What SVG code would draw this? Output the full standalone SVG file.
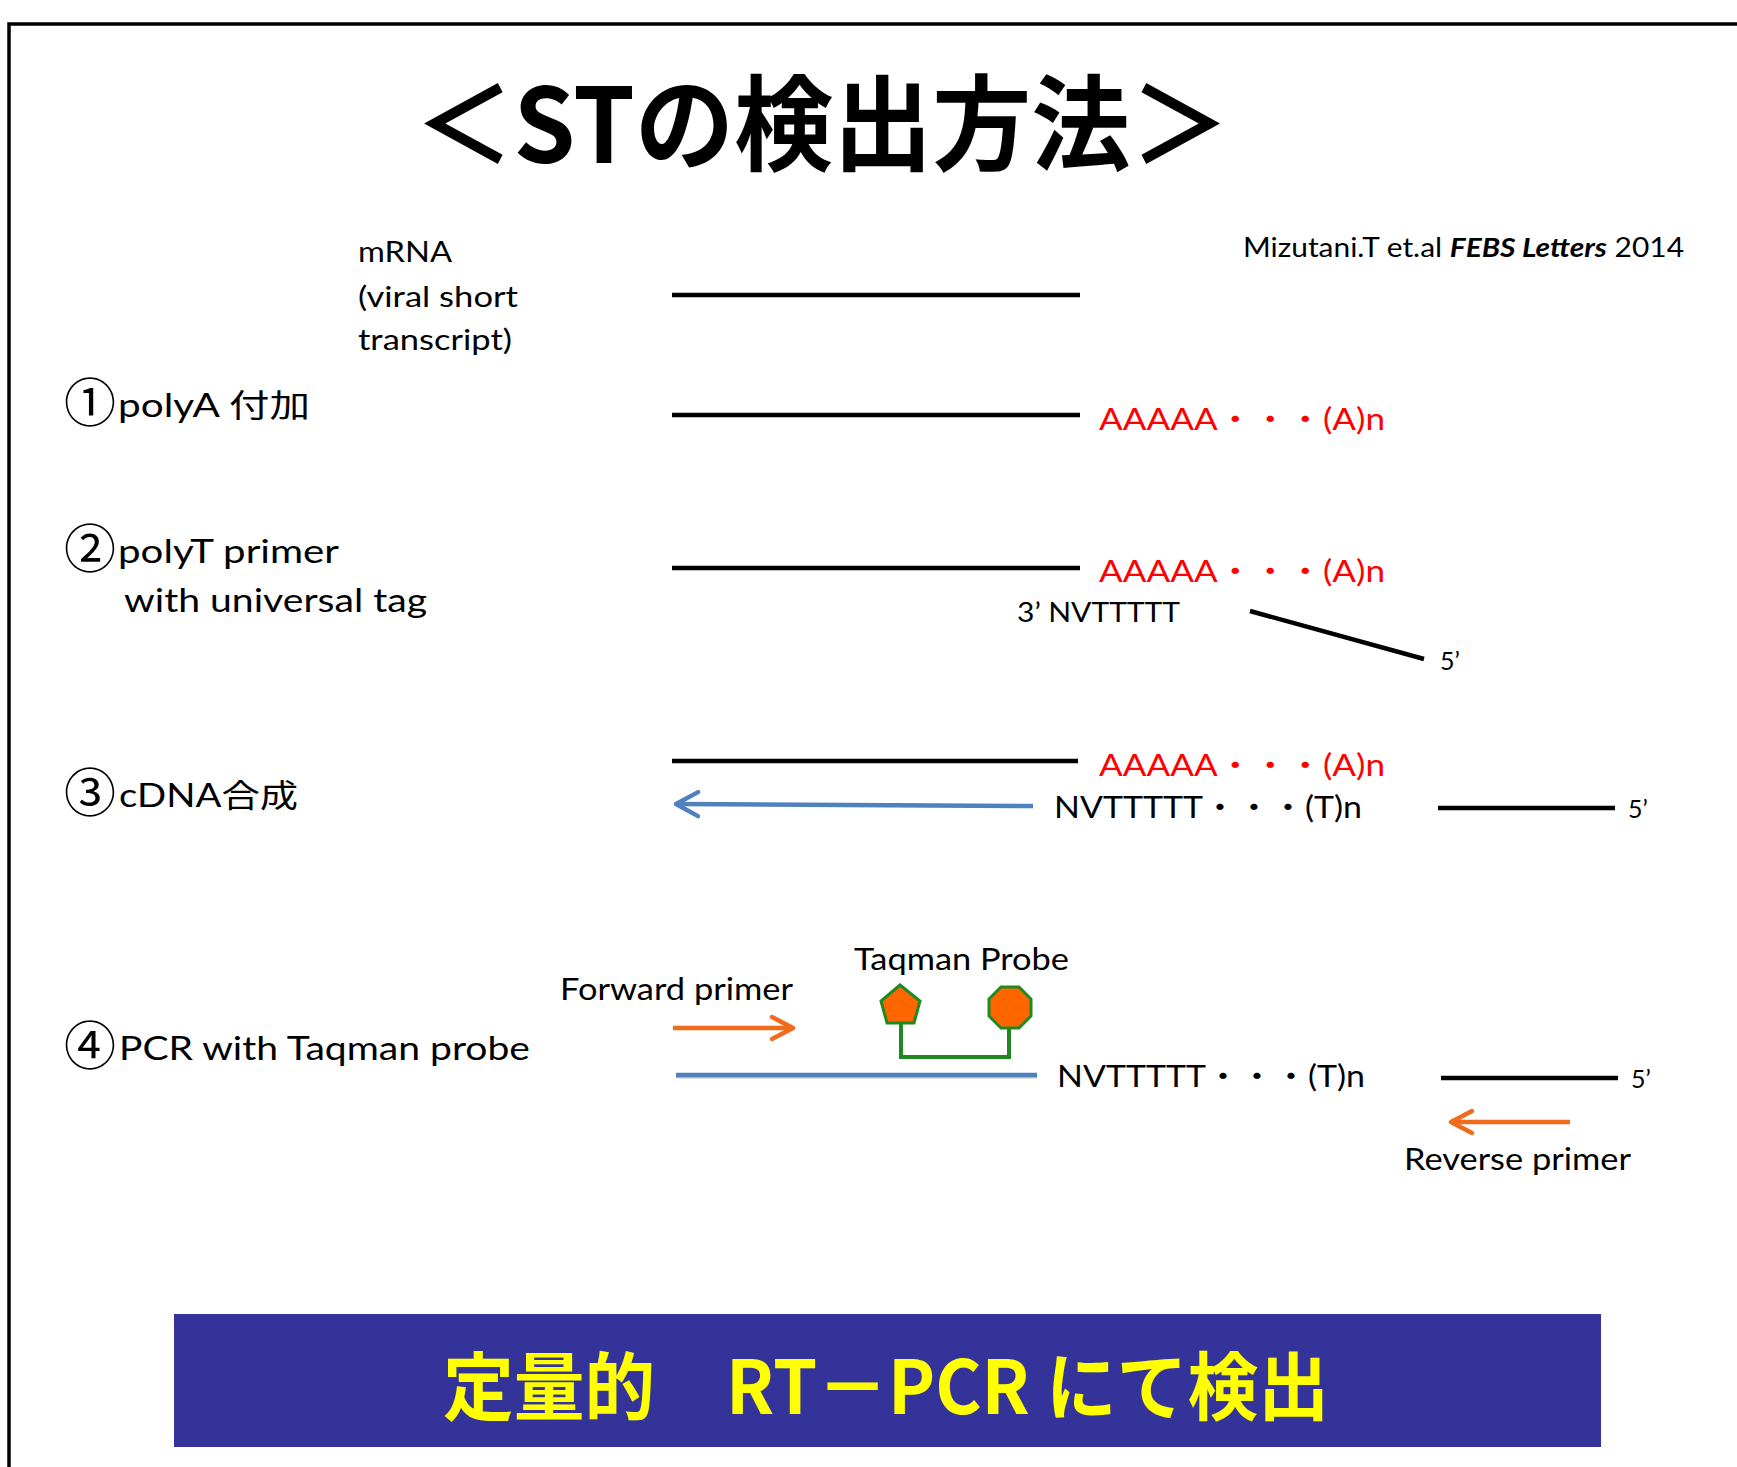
<svg xmlns="http://www.w3.org/2000/svg" width="1737" height="1467" viewBox="0 0 1737 1467">
<defs>
<style>
.lat{font-family:Lato,"Noto Sans CJK JP",sans-serif;fill:#000}
.circ{font-family:"Noto Sans CJK JP",sans-serif;font-size:52px;fill:#000}
.lbl{font-size:32px}
.sm{font-size:28px}
.seq{font-size:30px}
.red{fill:#ff0000}
.strand{stroke:#000;stroke-width:4.5;fill:none}
.blue{stroke:#4f81bd;stroke-width:4.5;fill:none}
.orange{stroke:#f26a1b;stroke-width:4.5;fill:none}
.title{font-family:"Noto Sans CJK JP",sans-serif;font-weight:700}
</style>
<marker id="hb" markerUnits="userSpaceOnUse" markerWidth="40" markerHeight="40" viewBox="-30 -20 40 40" refX="0" refY="0" orient="auto">
<path d="M-22,-12 L0,0 L-22,12" fill="none" stroke="#4f81bd" stroke-width="4.5" stroke-linecap="round" stroke-linejoin="round"/>
</marker>
<marker id="ho" markerUnits="userSpaceOnUse" markerWidth="40" markerHeight="40" viewBox="-30 -20 40 40" refX="0" refY="0" orient="auto">
<path d="M-21,-11 L0,0 L-21,11" fill="none" stroke="#f26a1b" stroke-width="4.5" stroke-linecap="round" stroke-linejoin="round"/>
</marker>
</defs>
<rect width="1737" height="1467" fill="#fff"/>
<path d="M9,1467 V24 H1737" fill="none" stroke="#000" stroke-width="3.5"/>

<g id="title">
<text class="title" x="822" y="163" font-size="104" text-anchor="middle" textLength="815" lengthAdjust="spacingAndGlyphs">＜STの検出方法＞</text>
</g>

<g id="citation">
<text class="lat" x="1243" y="257" font-size="27" textLength="441" lengthAdjust="spacingAndGlyphs">Mizutani.T et.al <tspan font-weight="700" font-style="italic">FEBS Letters</tspan> 2014</text>
</g>

<g id="mrna-label">
<text class="lat sm" x="358" y="262" textLength="94" lengthAdjust="spacingAndGlyphs">mRNA</text>
<text class="lat sm" x="358" y="307" textLength="160" lengthAdjust="spacingAndGlyphs">(viral short</text>
<text class="lat sm" x="358" y="350" textLength="154" lengthAdjust="spacingAndGlyphs">transcript)</text>
</g>

<g id="step1">
<text class="circ" x="64" y="422">①</text>
<text class="lat lbl" x="118" y="417" textLength="192" lengthAdjust="spacingAndGlyphs">polyA 付加</text>
</g>
<g id="step2">
<text class="circ" x="64" y="568">②</text>
<text class="lat lbl" x="118" y="563" textLength="221" lengthAdjust="spacingAndGlyphs">polyT primer</text>
<text class="lat lbl" x="124" y="612" textLength="303" lengthAdjust="spacingAndGlyphs">with universal tag</text>
</g>
<g id="step3">
<text class="circ" x="64" y="812">③</text>
<text class="lat lbl" x="119" y="807" textLength="179" lengthAdjust="spacingAndGlyphs">cDNA合成</text>
</g>
<g id="step4">
<text class="circ" x="64" y="1065">④</text>
<text class="lat lbl" x="119" y="1060" textLength="411" lengthAdjust="spacingAndGlyphs">PCR with Taqman probe</text>
</g>

<g id="polyA1">
<text class="lat seq red" x="1099" y="430" textLength="286" lengthAdjust="spacingAndGlyphs">AAAAA・・・(A)n</text>
</g>
<g id="polyA2">
<text class="lat seq red" x="1099" y="582" textLength="286" lengthAdjust="spacingAndGlyphs">AAAAA・・・(A)n</text>
</g>
<g id="primer-label">
<text class="lat" x="1017" y="622" font-size="27" textLength="163" lengthAdjust="spacingAndGlyphs">3’ NVTTTTT</text>
<text class="lat" x="1440" y="670" font-size="25">5’</text>
</g>
<g id="polyA3">
<text class="lat seq red" x="1099" y="776" textLength="286" lengthAdjust="spacingAndGlyphs">AAAAA・・・(A)n</text>
</g>
<g id="polyT3">
<text class="lat seq" x="1054" y="818" textLength="308" lengthAdjust="spacingAndGlyphs">NVTTTTT・・・(T)n</text>
<text class="lat" x="1628" y="818" font-size="25">5’</text>
</g>
<g id="forward-label">
<text class="lat seq" x="560" y="1000" textLength="233" lengthAdjust="spacingAndGlyphs">Forward primer</text>
</g>
<g id="taqman-label">
<text class="lat seq" x="854" y="970" textLength="215" lengthAdjust="spacingAndGlyphs">Taqman Probe</text>
</g>
<g id="probe">
<polygon points="900,985 920,1001 914,1023 887,1023 881,1001" fill="#ff6600" stroke="#1f8a1f" stroke-width="3"/>
<polygon points="1001,987 1019,987 1031,999 1031,1016 1019,1028 1001,1028 989,1016 989,999" fill="#ff6600" stroke="#1f8a1f" stroke-width="3"/>
</g>
<g id="polyT4">
<text class="lat seq" x="1057" y="1087" textLength="308" lengthAdjust="spacingAndGlyphs">NVTTTTT・・・(T)n</text>
<text class="lat" x="1631" y="1088" font-size="25">5’</text>
</g>
<g id="reverse-label">
<text class="lat seq" x="1404" y="1170" textLength="227" lengthAdjust="spacingAndGlyphs">Reverse primer</text>
</g>

<g id="connectors">
<line class="strand" x1="672" y1="295" x2="1080" y2="295"/>
<line class="strand" x1="672" y1="415" x2="1080" y2="415"/>
<line class="strand" x1="672" y1="568" x2="1080" y2="568"/>
<line class="strand" x1="1250" y1="611" x2="1424" y2="659"/>
<line class="strand" x1="672" y1="761" x2="1078" y2="761"/>
<line class="blue" x1="1033" y1="806" x2="676" y2="804" marker-end="url(#hb)"/>
<line class="strand" x1="1438" y1="808" x2="1615" y2="808"/>
<line class="orange" x1="673" y1="1028" x2="793" y2="1028" marker-end="url(#ho)"/>
<path d="M901,1023 V1057 H1009 V1028" fill="none" stroke="#1f8a1f" stroke-width="4"/>
<line x1="676" y1="1077" x2="1037" y2="1077" stroke="#c8c8c8" stroke-width="3"/>
<line class="blue" x1="676" y1="1075" x2="1037" y2="1075"/>
<line class="strand" x1="1441" y1="1078" x2="1618" y2="1078"/>
<line class="orange" x1="1570" y1="1122" x2="1451" y2="1122" marker-end="url(#ho)"/>
</g>

<g id="banner">
<rect x="174" y="1314" width="1427" height="133" fill="#333399"/>
<text class="title" x="886" y="1414" font-size="74" fill="#ffff00" text-anchor="middle" textLength="886" lengthAdjust="spacingAndGlyphs">定量的　RT－PCR にて検出</text>
</g>
</svg>
